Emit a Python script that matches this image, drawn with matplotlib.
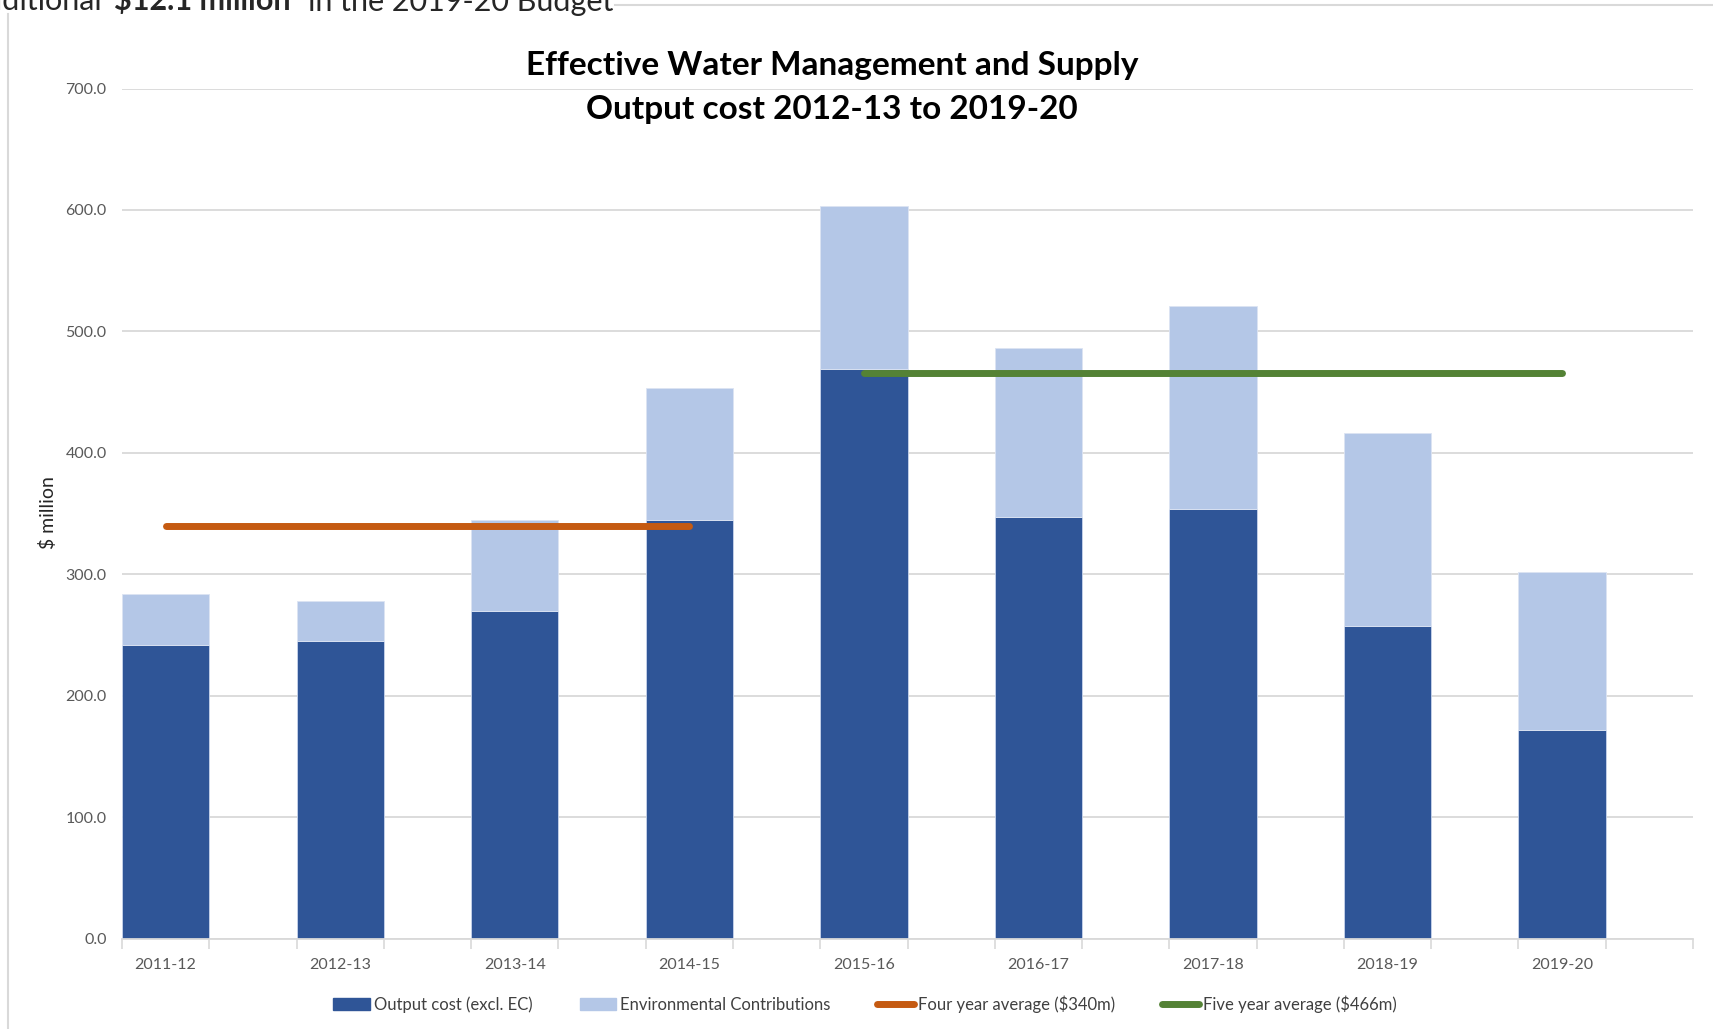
import matplotlib
matplotlib.use("Agg")
import matplotlib.pyplot as plt
from matplotlib.lines import Line2D
from matplotlib.patches import Patch
import numpy as np

plt.rcParams['font.family'] = ['Lato', 'DejaVu Sans']

# data ($ million)
years = ["2011-12", "2012-13", "2013-14", "2014-15", "2015-16",
         "2016-17", "2017-18", "2018-19", "2019-20"]
output_cost = [242, 245, 270, 345, 469, 347, 354, 257, 172]
env_contrib = [42, 33, 75, 108, 134, 139, 167, 159, 130]
four_year_avg = 340
five_year_avg = 466
four_year_span = ["2011-12", "2014-15"]
five_year_span = ["2015-16", "2019-20"]
y_ticks = [0, 100, 200, 300, 400, 500, 600, 700]

c_dark = "#2F5597"
c_light = "#B4C7E7"
c_orange = "#C55A11"
c_green = "#548235"
c_grid = "#D9D9D9"
c_tick = "#595959"

W, H = 1713, 1029
fig = plt.figure(figsize=(W / 100, H / 100), dpi=100)
ax = fig.add_axes([122 / W, 1 - 938.5 / H, (1693 - 122) / W, (938.5 - 88.5) / H])

# the category axis has a slot between every bar (as in the source sheet)
x = np.arange(len(years)) * 2
ax.bar(x, output_cost, width=1.0, color=c_dark, edgecolor="#C9D5EC", linewidth=0.6, zorder=2)
ax.bar(x, env_contrib, width=1.0, bottom=output_cost, color=c_light,
       edgecolor="#DCE4F3", linewidth=0.6, zorder=2)

i0, i1 = x[years.index(four_year_span[0])], x[years.index(four_year_span[1])]
ax.plot([i0, i1], [four_year_avg] * 2, color=c_orange, lw=5, solid_capstyle="round", zorder=3)
j0, j1 = x[years.index(five_year_span[0])], x[years.index(five_year_span[1])]
ax.plot([j0, j1], [five_year_avg] * 2, color=c_green, lw=5, solid_capstyle="round", zorder=3)

n_slots = 2 * len(years)
ax.set_xlim(-0.5, n_slots - 0.5)
ax.set_ylim(0, 700)
ax.set_yticks(y_ticks)
ax.set_yticklabels([f"{v:.1f}" for v in y_ticks])
ax.set_xticks(x)
ax.set_xticklabels(years)
ax.set_xticks(np.arange(-0.5, n_slots), minor=True)
ax.tick_params(axis="x", which="major", length=0, pad=14, labelsize=11.5, labelcolor=c_tick)
ax.tick_params(axis="x", which="minor", length=7, width=1.2, color=c_grid, direction="out")
ax.tick_params(axis="y", length=0, pad=11, labelsize=11.5, labelcolor=c_tick)

ax.grid(axis="y", color=c_grid, lw=1.3, zorder=0)
ax.set_axisbelow(True)
for s in ["top", "right", "left"]:
    ax.spines[s].set_visible(False)
ax.spines["bottom"].set_color(c_grid)
ax.spines["bottom"].set_linewidth(1.3)

fig.text(48 / W, 1 - 513 / H, "$ million", rotation=90, ha="center", va="center",
         fontsize=14, color="#262626")

fig.text(832 / W, 1 - 66 / H, "Effective Water Management and Supply", ha="center",
         va="center", fontsize=24, fontweight="bold", color="black")
fig.text(832 / W, 1 - 110 / H, "Output cost 2012-13 to 2019-20", ha="center",
         va="center", fontsize=24, fontweight="bold", color="black")

# cropped document text and chart frame at the top
fig.add_artist(Line2D([615 / W, 1], [1 - 5 / H] * 2, color=c_grid, lw=1.5))
fig.add_artist(Line2D([7.5 / W] * 2, [0, 1 - 14 / H], color=c_grid, lw=1.5))
base = 1 - 10.5 / H
fig.text(102 / W, base, "additional", ha="right", va="baseline", fontsize=22, color="#262626")
fig.text(114 / W, base, "$12.1 million", ha="left", va="baseline", fontsize=22,
         fontweight="bold", color="#262626")
fig.text(308 / W, base, "in the 2019-20 Budget", ha="left", va="baseline", fontsize=22,
         color="#262626")

handles = [
    Patch(facecolor=c_dark, edgecolor=c_dark),
    Patch(facecolor=c_light, edgecolor=c_light),
    Line2D([], [], color=c_orange, lw=5, solid_capstyle="round"),
    Line2D([], [], color=c_green, lw=5, solid_capstyle="round"),
]
labels = ["Output cost (excl. EC)", "Environmental Contributions",
          "Four year average ($340m)", "Five year average ($466m)"]
leg = fig.legend(handles, labels, loc="center", bbox_to_anchor=(865 / W, 1 - 1004 / H),
                 ncol=4, frameon=False, fontsize=12, handlelength=2.2, handleheight=0.7,
                 handletextpad=0.25, columnspacing=2.8)
for t in leg.get_texts():
    t.set_color("#404040")

fig.savefig("out.png", dpi=100)
